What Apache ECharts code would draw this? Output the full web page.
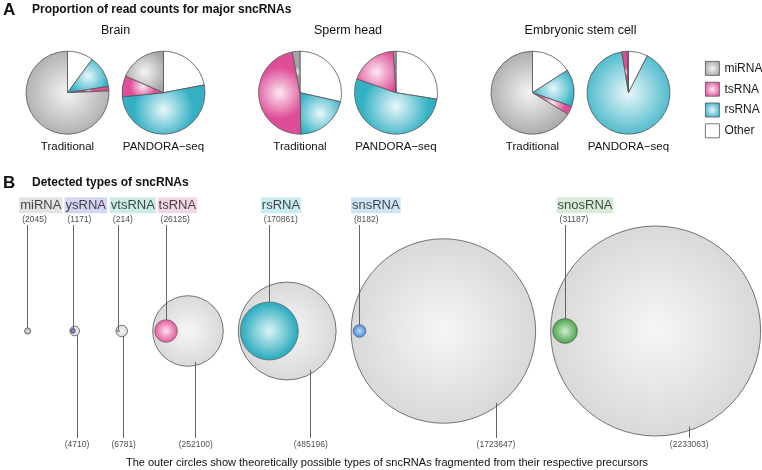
<!DOCTYPE html>
<html>
<head>
<meta charset="utf-8">
<script src="https://cdn.jsdelivr.net/npm/echarts@6/dist/echarts.min.js"></script>
<style>
  html, body { margin: 0; padding: 0; background: #fff; }
  #chart { width: 762px; height: 470px; }
</style>
</head>
<body>
<div id="chart"></div>
<script>
// ---- panel A: share of read counts (%), slices clockwise from 12 o'clock
const sliceNames = ['Other', 'rsRNA', 'tsRNA', 'miRNA'];
const legendNames = ['miRNA', 'tsRNA', 'rsRNA', 'Other'];
const tissues = ['Brain', 'Sperm head', 'Embryonic stem cell'];
const methods = ['Traditional', 'PANDORA\u2212seq'];
const brainTraditional = [10.1, 12.5, 1.7, 75.7];
const brainPandora = [22.0, 51.4, 8.2, 18.4];
const spermTraditional = [28.5, 21.2, 47.3, 3.0];
const spermPandora = [27.5, 52.9, 18.6, 1.0];
const escTraditional = [15.9, 14.5, 3.3, 66.3];
const escPandora = [7.5, 89.9, 2.1, 0.5];

// ---- panel B: detected types vs theoretically possible types
const rnaTypes = ['miRNA', 'ysRNA', 'vtsRNA', 'tsRNA', 'rsRNA', 'snsRNA', 'snosRNA'];
const detected = [2045, 1171, 214, 26125, 170861, 8182, 31187];
const possible = [null, 4710, 6781, 252100, 485196, 1723647, 2233063];

const FONT = 'Liberation Sans, Arial, Helvetica, sans-serif';

function grad(c0, c1, r) {
  return {
    type: 'radial', x: 0.5, y: 0.5, r: r || 0.6,
    colorStops: [{ offset: 0, color: c0 }, { offset: 1, color: c1 }]
  };
}

const sliceColors = {
  Other: '#ffffff',
  rsRNA: grad('#e9f7fa', '#33b0c4'),
  tsRNA: grad('#fde8f2', '#de4d97'),
  miRNA: grad('#f4f4f4', '#a4a4a4')
};
const boxColors = ['#dcdcdc', '#c9cbee', '#bfe7df', '#f0cde1', '#bfe7f0', '#c3dff5', '#cde8cf'];
const innerColors = [
  grad('#e6e6e6', '#9a9a9a', 0.5),
  grad('#9c9ce0', '#4a4aa6', 0.5),
  grad('#eeeeee', '#999999', 0.5),
  grad('#fde2ef', '#de4a94', 0.55),
  grad('#dcf4f8', '#12a1b5', 0.55),
  grad('#bcd9f7', '#3d80d4', 0.55),
  grad('#d2eed2', '#3b9b3b', 0.55)
];

const pieValues = [[brainTraditional, brainPandora], [spermTraditional, spermPandora], [escTraditional, escPandora]];

const series = [];
const graphics = [
  { type: 'text', x: 3, y: 10, style: { text: 'A', font: 'bold 17px ' + FONT, fill: '#111', verticalAlign: 'middle', textVerticalAlign: 'middle' } },
  { type: 'text', x: 32, y: 10, style: { text: 'Proportion of read counts for major sncRNAs', font: 'bold 12px ' + FONT, fill: '#111', verticalAlign: 'middle', textVerticalAlign: 'middle' } },
  { type: 'text', x: 3, y: 183, style: { text: 'B', font: 'bold 17px ' + FONT, fill: '#111', verticalAlign: 'middle', textVerticalAlign: 'middle' } },
  { type: 'text', x: 32, y: 183, style: { text: 'Detected types of sncRNAs', font: 'bold 12px ' + FONT, fill: '#111', verticalAlign: 'middle', textVerticalAlign: 'middle' } },
  { type: 'text', x: 387, y: 463, style: { text: 'The outer circles show theoretically possible types of sncRNAs fragmented from their respective precursors', font: '11px ' + FONT, fill: '#111', align: 'center', textAlign: 'center', verticalAlign: 'middle', textVerticalAlign: 'middle' } }
];

tissues.forEach((t, g) => {
  const gx = 115.5 + g * 232.5;
  graphics.push({ type: 'text', x: gx, y: 31, style: { text: t, font: '12.5px ' + FONT, fill: '#111', align: 'center', textAlign: 'center', verticalAlign: 'middle', textVerticalAlign: 'middle' } });
  methods.forEach((m, k) => {
    const cx = gx + (k ? 48 : -48);
    graphics.push({ type: 'text', x: cx, y: 147, style: { text: m, font: '11.5px ' + FONT, fill: '#111', align: 'center', textAlign: 'center', verticalAlign: 'middle', textVerticalAlign: 'middle' } });
    series.push({
      type: 'pie',
      center: [cx, 92.7],
      radius: 41.5,
      startAngle: 90,
      clockwise: true,
      silent: true,
      label: { show: false },
      labelLine: { show: false },
      emphasis: { disabled: true },
      itemStyle: { borderColor: '#555', borderWidth: 0.8 },
      data: sliceNames.map((n, i) => ({ name: n, value: pieValues[g][k][i], itemStyle: { color: sliceColors[n] } }))
    });
  });
});

// ---- panel B layout: circle area proportional to count, placed left to right
const maxPossible = Math.max(...possible.filter(v => v != null));
const kR = 105 / Math.sqrt(maxPossible);
const cy = 331;
const gap = 15, minSlot = 32;
const leaderDx = [0, 0.48, 0.34, 0.22, 0.48, 0.57, 0.32];

const outerData = [], innerData = [], lineData = [], topLabels = [], bottomLabels = [];
let left = 11.7;
rnaTypes.forEach((name, i) => {
  const r = kR * Math.sqrt(detected[i]);
  const R = possible[i] != null ? kR * Math.sqrt(possible[i]) : r;
  const w = Math.max(2 * R, minSlot);
  const ox = left + w / 2;
  left += w + gap;
  const ix = possible[i] != null ? ox - (R - r) + Math.min(2, (R - r) * 0.3) : ox;

  if (possible[i] != null) {
    outerData.push({ value: [ox, cy, possible[i]], symbolSize: 2 * R });
    const dx = R * leaderDx[i];
    const y0 = cy + Math.sqrt(R * R - dx * dx) - Math.min(4, 0.1 * R);
    const bx = ox + dx;
    lineData.push({ coords: [[bx, y0], [bx, 438]] });
    bottomLabels.push({ value: [bx, 445], label: { formatter: '(' + possible[i] + ')' } });
  }
  innerData.push({ value: [ix, cy, detected[i]], symbolSize: 2 * r, itemStyle: { color: innerColors[i] } });
  lineData.push({ coords: [[ix, 225], [ix, cy]] });
  topLabels.push({
    value: [ix - 9, 205.3],
    label: { formatter: name, backgroundColor: boxColors[i] }
  });
  topLabels.push({
    value: [ix - 6, 219.5],
    label: { formatter: '(' + detected[i] + ')', fontSize: 8.5, color: '#222', padding: 0 }
  });
});

series.push({
  type: 'scatter', xAxisIndex: 0, yAxisIndex: 0, z: 2, silent: true,
  data: outerData,
  itemStyle: { color: grad('#f6f6f6', '#d6d6d6', 0.55), borderColor: '#555', borderWidth: 0.8, opacity: 1 }
});
series.push({
  type: 'lines', coordinateSystem: 'cartesian2d', z: 3, silent: true,
  data: lineData,
  lineStyle: { color: '#555', width: 0.9, opacity: 1 }
});
series.push({
  type: 'scatter', z: 4, silent: true,
  data: innerData,
  itemStyle: { borderColor: '#555', borderWidth: 0.6, opacity: 1 }
});
series.push({
  type: 'scatter', z: 5, silent: true, symbolSize: 1,
  itemStyle: { color: 'transparent' },
  data: topLabels,
  label: { show: true, position: 'right', distance: 0, fontFamily: FONT, fontSize: 13, color: '#1a1a1a', padding: [2, 1, 1, 1] }
});
series.push({
  type: 'scatter', z: 5, silent: true, symbolSize: 1,
  itemStyle: { color: 'transparent' },
  data: bottomLabels,
  label: { show: true, position: 'inside', fontFamily: FONT, fontSize: 8.5, color: '#222' }
});

const chart = echarts.init(document.getElementById('chart'), null, { renderer: 'canvas' });
chart.setOption({
  animation: false,
  backgroundColor: '#fff',
  textStyle: { fontFamily: FONT },
  grid: { left: 0, right: 0, top: 0, bottom: 0 },
  xAxis: { type: 'value', min: 0, max: 762, show: false },
  yAxis: { type: 'value', min: 0, max: 470, inverse: true, show: false },
  legend: {
    data: legendNames,
    orient: 'vertical',
    left: 700, top: 56,
    itemWidth: 14, itemHeight: 14, itemGap: 6,
    icon: 'rect',
    selectedMode: false,
    itemStyle: { borderColor: '#555', borderWidth: 0.8 },
    textStyle: { fontSize: 12, color: '#1a1a1a', fontFamily: FONT }
  },
  graphic: graphics,
  series: series
});
</script>
</body>
</html>
